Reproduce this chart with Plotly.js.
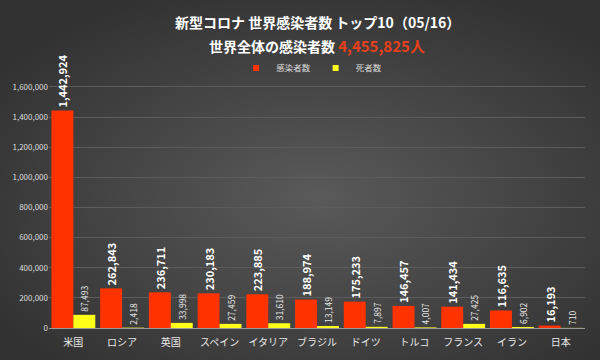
<!DOCTYPE html>
<html><head><meta charset="utf-8">
<script src="https://cdn.plot.ly/plotly-3.0.1.min.js"></script>
<style>html,body{margin:0;padding:0;background:#404040;}#c{width:600px;height:360px;}</style>
</head><body><div id="c"></div>
<script>
const countries = ["米国","ロシア","英国","スペイン","イタリア","ブラジル","ドイツ","トルコ","フランス","イラン","日本"];
const infected = [1442924,262843,236711,230183,223885,188974,175233,146457,141434,116635,16193];
const deaths = [87493,2418,33998,27459,31610,13149,7897,4007,27425,6902,710];
const titleLine1 = "新型コロナ 世界感染者数 トップ10（05/16）";
const titleLine2 = "世界全体の感染者数";
const worldTotal = "4,455,825人";

const fmt = v => v.toLocaleString("en-US");
const font = '"Noto Sans CJK JP", "Noto Sans", sans-serif';
const red = '#ff3300', yellow = '#ffff1a';

const bg = 'data:image/svg+xml;utf8,' + encodeURIComponent(
 '<svg xmlns="http://www.w3.org/2000/svg" width="600" height="360"><defs><radialGradient id="g" cx="50%" cy="55%" r="60%"><stop offset="0" stop-color="#5a5a5a"/><stop offset="1" stop-color="#323232"/></radialGradient></defs><rect width="600" height="360" fill="url(#g)"/></svg>');

const data = [
 {type:'bar', x:countries, y:infected, name:'感染者数', marker:{color:red}, showlegend:false,
  text:infected.map(fmt), textposition:'outside', textangle:-90, cliponaxis:false, constraintext:'none',
  textfont:{color:'#ffffff', size:11, family:font, weight:'bold'}},
 {type:'bar', x:countries, y:deaths, name:'死者数', marker:{color:yellow}, showlegend:false,
  text:deaths.map(fmt), textposition:'outside', textangle:-90, cliponaxis:false, constraintext:'none',
  textfont:{color:'#e8e8e8', size:8.5, family:font}},
 {type:'scatter', mode:'markers', x:[null], y:[null], name:'感染者数', marker:{symbol:'square', size:6, color:red}},
 {type:'scatter', mode:'markers', x:[null], y:[null], name:'死者数', marker:{symbol:'square', size:6, color:yellow}}
];

const pyToPaper = py => (328 - py) / 248;

const layout = {
 width:600, height:360,
 margin:{l:49, r:15, t:80, b:32},
 paper_bgcolor:'#454545', plot_bgcolor:'rgba(0,0,0,0)',
 font:{family:font, color:'#dddddd'},
 images:[{source:bg, xref:'paper', yref:'paper', x:-0.1, y:1.35, sizex:1.2, sizey:1.5, sizing:'stretch', layer:'below', xanchor:'left', yanchor:'top'}],
 annotations:[
  {text:'<b>'+titleLine1+'</b>', xref:'paper', yref:'paper', x:0.5, y:pyToPaper(22), xanchor:'center', yanchor:'middle', showarrow:false,
   font:{size:14, color:'#ffffff', family:font}},
  {text:'<b>'+titleLine2+' <span style="color:#e8401a;font-size:15px">'+worldTotal+'</span></b>', xref:'paper', yref:'paper', x:0.5, y:pyToPaper(45), xanchor:'center', yanchor:'middle', showarrow:false,
   font:{size:14, color:'#ffffff', family:font}}
 ],
 barmode:'group', bargap:0.1, bargroupgap:0,
 showlegend:true,
 legend:{orientation:'h', x:0.49, xanchor:'center', y:pyToPaper(68), yanchor:'middle', font:{size:8.5, color:'#dddddd'}, bgcolor:'rgba(0,0,0,0)', itemwidth:30, traceorder:'normal'},
 xaxis:{tickfont:{size:10, color:'#e8e8e8'}, showline:true, linecolor:'#9a9a9a', linewidth:1, ticks:'', ticklabelstandoff:5, fixedrange:true},
 yaxis:{range:[0,1646000], tickvals:[0,200000,400000,600000,800000,1000000,1200000,1400000,1600000],
  tickformat:',d', tickfont:{size:8, color:'#dddddd'}, gridcolor:'#5c5c5c', gridwidth:1, zeroline:false, ticks:''}
};
Plotly.newPlot('c', data, layout, {displayModeBar:false, staticPlot:true});
</script></body></html>
